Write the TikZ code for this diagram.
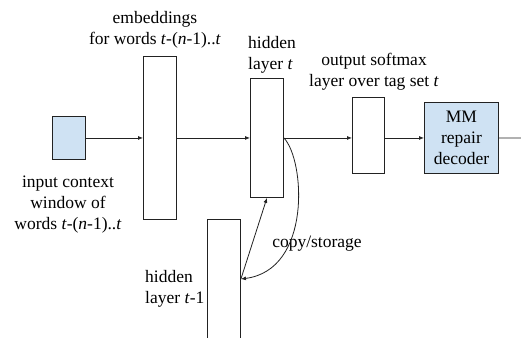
\documentclass[tikz,border=0pt]{standalone}
\usepackage{fontspec}
\setmainfont{Liberation Serif}
\usetikzlibrary{arrows.meta,calc}
\definecolor{boxblue}{HTML}{CFE2F3}
\definecolor{inkgray}{HTML}{222222}
\begin{document}
\begin{tikzpicture}[x=1pt,y=-1pt,
  layerbox/.style={draw=inkgray, line width=0.9pt, inner sep=0pt, anchor=north west},
  lbl/.style={font=\fontsize{17.5}{21}\selectfont, inner sep=0pt},
  flow/.style={draw=inkgray, line width=0.8pt, -{Latex[length=5pt,width=4pt]}},
  plain/.style={draw=inkgray, line width=0.8pt},
]
\clip (0,0) rectangle (521,337);

% layers
\node[layerbox, fill=boxblue, minimum width=33pt, minimum height=43pt] (in) at (52,116) {};
\node[layerbox, minimum width=33pt, minimum height=163pt] (emb) at (143,56) {};
\node[layerbox, minimum width=33pt, minimum height=119pt] (hid) at (250,78) {};
\node[layerbox, minimum width=32pt, minimum height=76pt] (out) at (352,97) {};
\node[layerbox, fill=boxblue, minimum width=74pt, minimum height=71pt,
      lbl, align=center, inner sep=0pt] (mm) at (424,102) {MM\\repair\\decoder};
\node[layerbox, minimum width=33pt, minimum height=140pt] (prev) at (207,219) {};

% labels
\node[lbl, align=center, anchor=north] (embl) at (155,11) {embeddings\\for words \textit{t}-(\textit{n}-1)..\textit{t}};
\node[lbl, align=left, anchor=north west] (hidl) at (248,36) {hidden\\layer \textit{t}};
\node[lbl, align=center, anchor=north] (outl) at (374,53) {output softmax\\layer over tag set \textit{t}};
\node[lbl, align=center, anchor=north] (inl) at (68,176) {input context\\window of\\words \textit{t}-(\textit{n}-1)..\textit{t}};
\node[lbl, align=left, anchor=north west] (prevl) at (145,270) {hidden\\layer \textit{t}-1};
\node[lbl, anchor=base] (copyl) at (317,247) {copy/storage};

% forward connections
\draw[flow] (in.east) -- (emb.west |- in.east);
\draw[flow] (emb.east) -- (hid.west |- emb.east);
\draw[flow] (hid.east) -- (out.west |- hid.east);
\draw[flow] (out.east |- hid.east) -- (mm.west |- hid.east);
\coordinate (exit) at (521,138);
\draw[plain] (mm.east |- hid.east) -- (exit);

% recurrent copy
\coordinate (tap) at (prev.east |- 0,279);
\draw[flow] (tap) -- (hid.south);
\draw[flow] (hid.east) .. controls (305,160) and (312,270) .. (tap);
\end{tikzpicture}
\end{document}
